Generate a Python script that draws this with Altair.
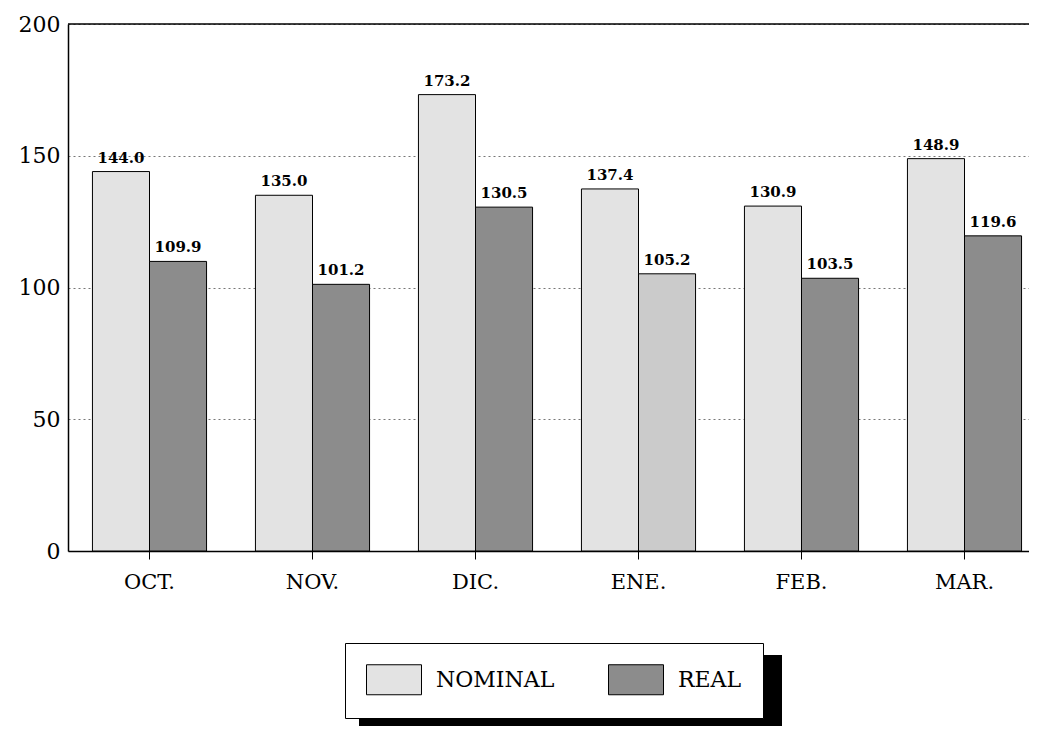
import altair as alt
import pandas as pd

FONT = "DejaVu Serif"

meses = ["OCT.", "NOV.", "DIC.", "ENE.", "FEB.", "MAR."]
nominal = [144.0, 135.0, 173.2, 137.4, 130.9, 148.9]
real = [109.9, 101.2, 130.5, 105.2, 103.5, 119.6]
series = ["NOMINAL", "REAL"]
tramas = ["NOMINAL", "REAL", "REAL_CLARO"]
colores = ["#e3e3e3", "#8c8c8c", "#cbcbcb"]
y_ticks = [0, 50, 100, 150, 200]

rows = []
for i, m in enumerate(meses):
    rows.append({"mes": m, "serie": "NOMINAL", "valor": nominal[i], "trama": "NOMINAL"})
    rows.append({"mes": m, "serie": "REAL", "valor": real[i],
                 "trama": "REAL_CLARO" if m == "ENE." else "REAL"})
df = pd.DataFrame(rows)

x_enc = alt.X(
    "mes:N", sort=meses,
    scale=alt.Scale(paddingInner=0.3, paddingOuter=0.15, range=[0, 978]),
    axis=alt.Axis(title=None, labelAngle=0, labelFont=FONT, labelFontSize=21,
                  labelColor="black", tickSize=8, tickColor="black", labelPadding=12,
                  domainColor="black", domainWidth=1.5, grid=False),
)
xo_enc = alt.XOffset("serie:N", sort=series, scale=alt.Scale(paddingInner=0, paddingOuter=0))
y_enc = alt.Y(
    "valor:Q",
    scale=alt.Scale(domain=[0, 200], nice=False),
    axis=alt.Axis(values=y_ticks, title=None, labelFont=FONT, labelFontSize=22,
                  labelColor="black", ticks=False, labelPadding=8, grid=True,
                  gridDash=[2, 3], gridColor="#777777", gridWidth=1,
                  domainColor="black", domainWidth=1.5),
)

# swatch 55x30: unit = sqrt(900)/2 = 15 px; shifted right so the label clears it
sym_path = "M-1,-1H2.667V1H-1Z"

bars = alt.Chart(df).mark_bar(stroke="black", strokeWidth=1, opacity=1).encode(
    x=x_enc,
    xOffset=xo_enc,
    y=y_enc,
    color=alt.Color(
        "trama:N",
        scale=alt.Scale(domain=tramas, range=colores),
        legend=alt.Legend(
            values=series, orient="none", legendX=277, legendY=619,
            direction="horizontal", title=None, symbolType=sym_path,
            symbolSize=900, symbolStrokeColor="black", symbolStrokeWidth=1,
            symbolOpacity=1, labelFont=FONT, labelFontSize=22, labelColor="black",
            labelOffset=39, columnPadding=51, padding=21, fillColor="white",
            strokeColor="black", cornerRadius=0,
        ),
    ),
)

labels = alt.Chart(df).mark_text(
    dy=-6, font=FONT, fontSize=15, fontWeight="bold", color="black", baseline="bottom"
).encode(
    x=x_enc, xOffset=xo_enc, y=y_enc,
    text=alt.Text("valor:Q", format=".1f"),
)

top_rule = alt.Chart(pd.DataFrame({"t": [0]})).mark_rule(color="black", strokeWidth=1.5).encode(
    y=alt.datum(200)
)

shadow = alt.Chart(pd.DataFrame({"t": [0]})).mark_rect(color="black").encode(
    x=alt.value(291), x2=alt.value(714), y=alt.value(631), y2=alt.value(703)
)

chart = alt.layer(shadow, bars, labels, top_rule).properties(
    width=961, height=527,
    autosize=alt.AutoSizeParams(type="none"),
    padding={"left": 60, "top": 16, "right": 0, "bottom": 175},
    background="white",
).configure_view(stroke=None)

chart.save("out.html", embed_options={"renderer": "svg", "actions": False})
